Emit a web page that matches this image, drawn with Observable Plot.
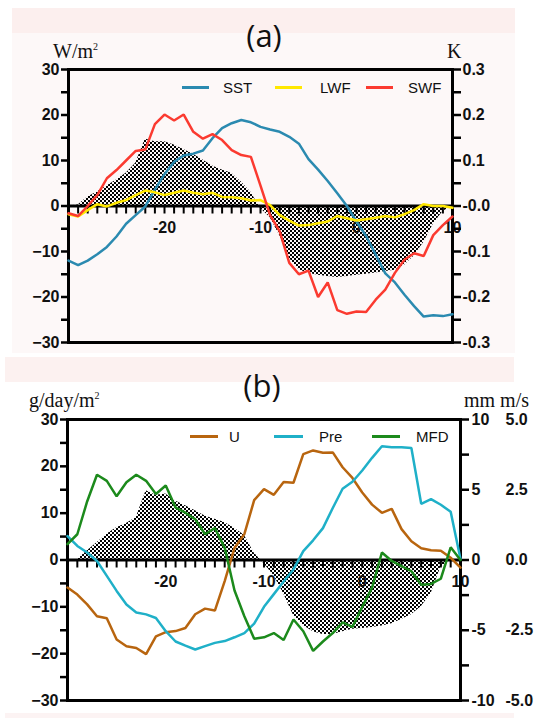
<!DOCTYPE html>
<html><head><meta charset="utf-8">
<script src="https://cdn.jsdelivr.net/npm/d3@7"></script>
<script src="https://cdn.jsdelivr.net/npm/@observablehq/plot@0.6"></script>
<style>
body{margin:0;background:#fff;}
#wrap{position:relative;width:538px;height:718px;overflow:hidden;}
.abs{position:absolute;white-space:nowrap;line-height:1;}
.serif{font-family:"Liberation Serif","Times New Roman",serif;font-size:20px;color:#111;}
.serif sup{font-size:10px;vertical-align:8px;}
.ttl{font-family:"Open Sans",sans-serif;font-size:31px;color:#111;}
.lg{font-family:"Liberation Sans",Arial,sans-serif;font-size:15px;color:#111;}
.bg{position:absolute;}
</style></head><body><div id="wrap"></div>
<script>
// ---------- data ----------
const days = [-30,-29,-28,-27,-26,-25,-24,-23,-22,-21,-20,-19,-18,-17,-16,-15,-14,-13,-12,-11,-10,-9,-8,-7,-6,-5,-4,-3,-2,-1,0,1,2,3,4,5,6,7,8,9,10];

// panel (a)
const sstK = [-0.12,-0.13,-0.12,-0.106,-0.09,-0.067,-0.039,-0.02,-0.001,0.036,0.07,0.097,0.111,0.115,0.122,0.149,0.171,0.182,0.189,0.184,0.174,0.168,0.163,0.152,0.137,0.103,0.08,0.055,0.028,0.0,-0.034,-0.066,-0.107,-0.148,-0.168,-0.195,-0.22,-0.243,-0.24,-0.242,-0.238];
const lwf = [-1.8,-2.3,-0.9,0.4,-0.1,0.7,1.3,2.4,3.4,3.0,2.4,2.9,3.4,2.9,2.6,2.9,2.0,1.9,1.7,1.2,1.3,0.2,-2.0,-3.2,-4.3,-4.2,-3.8,-3.4,-2.2,-2.7,-3.2,-2.9,-2.6,-2.2,-2.5,-1.8,-0.9,0.4,0.0,0.0,-0.4];
const swf = [-1.6,-2.2,0.0,2.4,6.1,7.9,10.0,12.1,12.4,18.0,20.1,18.8,20.1,16.3,14.8,15.8,14.5,12.3,11.2,10.8,4.5,-2.0,-5.6,-12.5,-15.0,-14.2,-20.0,-16.8,-22.9,-23.7,-23.2,-23.3,-20.6,-18.4,-14.7,-11.8,-10.4,-11.0,-6.4,-4.2,-2.3];
const shadeA = [0,0.2,2.0,3.1,4.4,5.7,7.2,9.4,14.7,14.1,14.1,13.4,12.4,11.4,10.1,8.8,7.9,7.2,5.3,3.0,-0.5,-2.5,-6.5,-11.5,-14.0,-14.8,-15.2,-15.5,-15.7,-15.5,-15.2,-15.0,-14.7,-14.4,-14.1,-13.0,-11.0,-8.0,-4.0,-1.2,0];

// panel (b)
const uMs = [-0.98,-1.23,-1.58,-2.0,-2.07,-2.83,-3.07,-3.13,-3.35,-2.72,-2.57,-2.53,-2.42,-1.93,-1.73,-1.8,-0.75,0.43,0.92,2.13,2.52,2.32,2.78,2.75,3.77,3.9,3.82,3.83,3.3,2.92,2.4,1.97,1.68,1.82,1.1,0.67,0.42,0.35,0.33,0.08,-0.27];
const preMm = [1.7,1.0,0.53,-0.07,-1.13,-2.2,-3.17,-3.73,-3.87,-4.13,-5.07,-5.8,-6.1,-6.37,-6.13,-5.9,-5.77,-5.5,-5.2,-4.53,-3.33,-2.43,-1.53,-0.67,0.63,1.4,2.27,3.7,5.07,5.57,6.37,7.27,8.1,8.03,8.03,7.97,4.0,4.33,3.93,3.43,0.07];
const mfd = [3.4,5.5,12.5,18.2,16.9,13.6,16.6,18.2,16.9,14.1,15.9,11.2,10.1,8.7,5.5,6.8,2.6,-6.5,-12.0,-16.8,-16.5,-15.6,-17.1,-12.7,-15.2,-19.4,-17.4,-15.6,-13.3,-14.3,-10.0,-5.9,1.6,-0.2,-1.3,-2.4,-5.3,-5.1,-4.0,2.7,0];
const shadeB = [0,0.1,1.9,3.7,5.5,6.9,7.8,9.1,14.8,13.8,14.1,12.6,11.6,10.5,9.4,8.7,8.0,6.8,5.3,1.5,-0.8,-3.3,-7.2,-11.8,-14.0,-15.3,-15.9,-15.9,-15.3,-14.8,-14.6,-14.4,-14.1,-13.6,-12.7,-11.7,-10.0,-7.2,-1.5,0,0];

// ticks / labels
const leftTicks = [30,20,10,0,-10,-20,-30];
const leftMinor = [25,15,5,-5,-15,-25];
const xTickLabels = [-20,-10,0,10];
const xMinor = [-29,-28,-27,-26,-25,-24,-23,-22,-21,-20,-19,-18,-17,-16,-15,-14,-13,-12,-11,-10,-9,-8,-7,-6,-5,-4,-3,-2,-1,0,1,2,3,4,5,6,7,8,9];
const kTickLabels = ["0.3","0.2","0.1","-0.0","-0.1","-0.2","-0.3"];
const mmTicks = [10,5,0,-5,-10];
const mmMinor = [7.5,2.5,-2.5,-7.5];
const msTickLabels = ["5.0","2.5","0.0","-2.5","-5.0"];

const colors = {SST:"#2b8ab0", LWF:"#ffe800", SWF:"#fb3a30", U:"#b8650f", Pre:"#1fb0c8", MFD:"#1c8a1c"};

// ---------- helpers ----------
const wrap = document.getElementById("wrap");
function bg(x,y,w,h,c){const d=document.createElement("div");d.className="bg";Object.assign(d.style,{left:x+"px",top:y+"px",width:w+"px",height:h+"px",background:c});wrap.appendChild(d);}
function label(html,cls,x,y,center){const d=document.createElement("div");d.className="abs "+cls;d.innerHTML=html;d.style.left=x+"px";d.style.top=y+"px";d.style.transform=center?"translate(-50%,-50%)":"translate(0,-50%)";wrap.appendChild(d);}
function legLine(x1,x2,y,c){const d=document.createElement("div");d.className="bg";Object.assign(d.style,{left:x1+"px",top:(y-1.5)+"px",width:(x2-x1)+"px",height:"3px",background:c});wrap.appendChild(d);}

const tickFont = {fontFamily:'"Liberation Sans", Arial, sans-serif', fontWeight:"bold", fontSize:16};
const rows = (arr, k) => days.map((d,i)=>({day:d, v:arr[i]*k}));

function addPattern(svg, id){
  const ns="http://www.w3.org/2000/svg";
  const defs=document.createElementNS(ns,"defs");
  const p=document.createElementNS(ns,"pattern");
  p.setAttribute("id",id);p.setAttribute("width",4);p.setAttribute("height",4);p.setAttribute("patternUnits","userSpaceOnUse");
  [[0,0],[2,2]].forEach(([x,y])=>{const r=document.createElementNS(ns,"rect");r.setAttribute("x",x);r.setAttribute("y",y);r.setAttribute("width",2);r.setAttribute("height",2);r.setAttribute("fill","#000");p.appendChild(r);});
  defs.appendChild(p);svg.insertBefore(defs,svg.firstChild);
  svg.querySelectorAll('g[aria-label="area"]').forEach(g=>{g.setAttribute("fill",`url(#${id})`);g.querySelectorAll("path").forEach(q=>q.setAttribute("fill",`url(#${id})`));});
}

function makePanel(cfg){
  const ppu = (cfg.height-cfg.marginTop-cfg.marginBottom)/60;
  const tl = 8/ppu;
  const marks = [
    Plot.areaY(rows(cfg.shade,1), {x:"day", y:"v", fill:"black", curve:"linear"}),
    Plot.ruleY([0], {stroke:"black", strokeWidth:3}),
    Plot.ruleX(xMinor, {x:d=>d, y1:0, y2:-tl, stroke:"black", strokeWidth:2}),
    Plot.text(xTickLabels, {x:d=>d, y:0, dy:22, text:d=>String(d), fill:"#111", ...tickFont}),
    Plot.axisY(leftTicks, {anchor:"left", label:null, tickSize:7, tickPadding:2, strokeWidth:2.5, fill:"#111", ...tickFont}),
    Plot.axisY(leftMinor, {anchor:"left", label:null, tickSize:7, tickFormat:()=>"", strokeWidth:2.5}),
    ...cfg.rightMarks,
    Plot.frame({stroke:"black", strokeWidth:3}),
    ...cfg.series.map(s=>Plot.line(rows(s.data,s.k), {x:"day", y:"v", stroke:s.color, strokeWidth:2.5, strokeLinejoin:"miter"}))
  ];
  const svg = Plot.plot({
    width:538, height:cfg.height,
    marginTop:cfg.marginTop, marginBottom:cfg.marginBottom, marginLeft:cfg.marginLeft, marginRight:cfg.marginRight,
    x:{domain:[-30,10], axis:null, label:null}, y:{domain:[-30,30], axis:null, label:null},
    style:{background:"transparent", overflow:"visible"},
    marks
  });
  addPattern(svg, cfg.id);
  svg.style.position="absolute"; svg.style.left="0px"; svg.style.top=cfg.top+"px";
  wrap.appendChild(svg);
}

// ---------- backgrounds ----------
bg(12,8,503,345,"#fdf8f8");
bg(12,8,503,25,"#fcefee");
bg(5,357,509,25,"#fcf1f0");
bg(5,713,509,5,"#fcf3f3");

// ---------- panel (a) ----------
makePanel({
  id:"chkA", top:0, height:360, marginTop:69, marginBottom:18, marginLeft:68, marginRight:86,
  shade:shadeA,
  rightMarks:[
    Plot.axisY(leftTicks, {anchor:"right", label:null, tickSize:8, tickPadding:2, strokeWidth:2.5, fill:"#111", tickFormat:d=>kTickLabels[leftTicks.indexOf(d)], ...tickFont}),
    Plot.axisY(leftMinor, {anchor:"right", label:null, tickSize:8, tickFormat:()=>"", strokeWidth:2.5})
  ],
  series:[
    {data:sstK, k:100, color:colors.SST},
    {data:lwf, k:1, color:colors.LWF},
    {data:swf, k:1, color:colors.SWF}
  ]
});

// ---------- panel (b) ----------
makePanel({
  id:"chkB", top:360, height:358, marginTop:59, marginBottom:18, marginLeft:67, marginRight:78,
  shade:shadeB,
  rightMarks:[
    Plot.axisY(mmTicks.map(m=>m*3), {anchor:"right", label:null, tickSize:8, tickPadding:3, strokeWidth:2.5, fill:"#111", tickFormat:d=>String(mmTicks[mmTicks.indexOf(d/3)]), ...tickFont}),
    Plot.axisY(mmMinor.map(m=>m*3), {anchor:"right", label:null, tickSize:8, tickFormat:()=>"", strokeWidth:2.5}),
    Plot.axisY(mmTicks.map(m=>m*3), {anchor:"right", label:null, tickSize:0, tickPadding:45, fill:"#111", tickFormat:d=>msTickLabels[mmTicks.indexOf(d/3)], ...tickFont})
  ],
  series:[
    {data:uMs, k:6, color:colors.U},
    {data:preMm, k:3, color:colors.Pre},
    {data:mfd, k:1, color:colors.MFD}
  ]
});

// ---------- titles, units, legends ----------
label("(a)","ttl",264,35,true);
label("W/m<sup>2</sup>","serif",53,51,false);
label("K","serif",447,51,false);
legLine(182,209,87,colors.SST); label("SST","lg",223,87,false);
legLine(275,302,87,colors.LWF); label("LWF","lg",320,87,false);
legLine(366,393,87,colors.SWF); label("SWF","lg",408,87,false);

label("(b)","ttl",262,385,true);
label("g/day/m<sup>2</sup>","serif",29,400,false);
label("mm m/s","serif",464,400,false);
legLine(190,218,436,colors.U); label("U","lg",229,436,false);
legLine(274,303,436,colors.Pre); label("Pre","lg",319,436,false);
legLine(372,400,436,colors.MFD); label("MFD","lg",416,436,false);
</script></body></html>
